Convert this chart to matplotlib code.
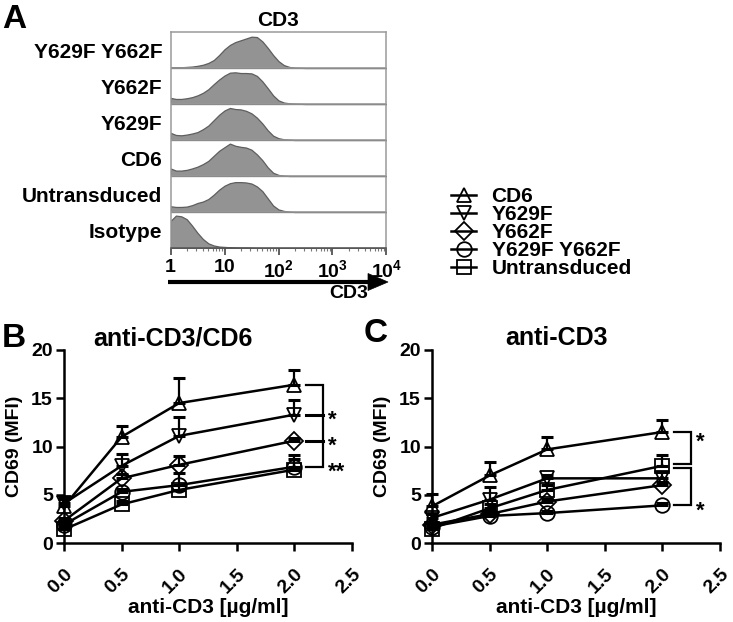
import matplotlib
matplotlib.use('Agg')
import matplotlib.pyplot as plt
import numpy as np
from matplotlib.patches import Polygon

plt.rcParams['font.family'] = ['Liberation Sans', 'DejaVu Sans']
plt.rcParams['font.weight'] = 'bold'
plt.rcParams['mathtext.fontset'] = 'custom'
plt.rcParams['mathtext.rm'] = 'Liberation Sans:bold'
plt.rcParams['mathtext.bf'] = 'Liberation Sans:bold'
plt.rcParams['mathtext.it'] = 'Liberation Sans:bold'

# ---------------- Panel A data (CD3 histograms, x in log10 units) ----------------
hist_labels = ['Y629F Y662F', 'Y662F', 'Y629F', 'CD6', 'Untransduced', 'Isotype']
hist_logx = [0.0, 0.1, 0.2, 0.3, 0.4, 0.5, 0.6, 0.7, 0.8, 0.9, 1.0, 1.1, 1.2, 1.3,
             1.4, 1.5, 1.6, 1.7, 1.8, 1.9, 2.0, 2.1, 2.2, 2.3, 2.5, 3.0, 4.0]
h_dbl = [0.02, 0.02, 0.02, 0.03, 0.04, 0.06, 0.09, 0.14, 0.22, 0.36, 0.52, 0.64, 0.72, 0.77,
         0.82, 0.87, 0.86, 0.74, 0.56, 0.36, 0.19, 0.08, 0.03, 0.01, 0.0, 0.0, 0.0]
h_y662f = [0.17, 0.14, 0.14, 0.16, 0.19, 0.24, 0.31, 0.41, 0.55, 0.68, 0.79, 0.87, 0.88, 0.86,
           0.86, 0.85, 0.78, 0.63, 0.44, 0.24, 0.10, 0.04, 0.02, 0.01, 0.0, 0.0, 0.0]
h_y629f = [0.20, 0.14, 0.13, 0.15, 0.18, 0.22, 0.30, 0.40, 0.55, 0.70, 0.82, 0.89, 0.86, 0.85,
           0.81, 0.74, 0.62, 0.46, 0.27, 0.12, 0.05, 0.02, 0.01, 0.0, 0.0, 0.0, 0.0]
h_cd6 = [0.21, 0.15, 0.15, 0.17, 0.21, 0.26, 0.33, 0.42, 0.56, 0.70, 0.80, 0.90, 0.84, 0.81,
         0.79, 0.73, 0.60, 0.44, 0.24, 0.09, 0.03, 0.01, 0.0, 0.0, 0.0, 0.0, 0.0]
h_untr = [0.16, 0.14, 0.14, 0.15, 0.19, 0.25, 0.29, 0.36, 0.48, 0.62, 0.73, 0.80, 0.83, 0.83,
          0.82, 0.79, 0.71, 0.58, 0.38, 0.18, 0.07, 0.03, 0.01, 0.0, 0.0, 0.0, 0.0]
h_iso = [0.75, 0.90, 0.88, 0.80, 0.62, 0.42, 0.25, 0.13, 0.07, 0.04, 0.03, 0.02, 0.015, 0.01,
         0.01, 0.005, 0.0, 0.0, 0.0, 0.0, 0.0, 0.0, 0.0, 0.0, 0.0, 0.0, 0.0]
hist_heights = [h_dbl, h_y662f, h_y629f, h_cd6, h_untr, h_iso]
hist_tick_labels = ['1', '10', '10$^2$', '10$^3$', '10$^4$']

# ---------------- Panels B/C data ----------------
doses = [0.0, 0.5, 1.0, 2.0]
groups = ['CD6', 'Y629F', 'Y662F', 'Y629F Y662F', 'Untransduced']
group_markers = ['^', 'v', 'D', 'o', 's']

# B: anti-CD3/CD6
b_cd6 = [3.8, 11.0, 14.5, 16.4]
b_cd6_err = [1.0, 1.1, 2.6, 1.5]
b_y629f = [4.1, 8.0, 11.1, 13.3]
b_y629f_err = [0.5, 1.2, 2.0, 1.5]
b_y662f = [2.3, 6.7, 8.1, 10.6]
b_y662f_err = [0.3, 0.4, 0.9, 0.3]
b_dbl = [1.9, 5.3, 6.0, 7.9]
b_dbl_err = [0.3, 0.3, 1.3, 1.2]
b_untr = [1.4, 4.0, 5.5, 7.6]
b_untr_err = [0.3, 0.4, 0.5, 1.1]

# C: anti-CD3
c_cd6 = [3.8, 7.0, 9.7, 11.5]
c_cd6_err = [1.3, 1.4, 1.3, 1.2]
c_y629f = [2.6, 4.5, 6.7, 6.7]
c_y629f_err = [0.4, 1.3, 0.3, 0.7]
c_y662f = [1.9, 3.0, 4.3, 6.0]
c_y662f_err = [0.2, 0.3, 0.3, 0.3]
c_dbl = [1.7, 2.8, 3.1, 3.9]
c_dbl_err = [0.2, 0.2, 0.2, 0.2]
c_untr = [1.5, 3.6, 5.5, 8.0]
c_untr_err = [0.3, 0.4, 0.5, 1.1]

b_means = [b_cd6, b_y629f, b_y662f, b_dbl, b_untr]
b_errs = [b_cd6_err, b_y629f_err, b_y662f_err, b_dbl_err, b_untr_err]
c_means = [c_cd6, c_y629f, c_y662f, c_dbl, c_untr]
c_errs = [c_cd6_err, c_y629f_err, c_y662f_err, c_dbl_err, c_untr_err]

W, H = 733, 622
fig = plt.figure(figsize=(W / 100, H / 100), dpi=100)


def px_axes(l, t, r, b):
    return [l / W, 1 - b / H, (r - l) / W, (b - t) / H]


# ---------------- Panel A ----------------
axh = fig.add_axes(px_axes(170.5, 32, 386.5, 248))
gray_line = '#9a9a9a'
n = len(hist_labels)
for i, h in enumerate(hist_heights):
    base = n - 1 - i
    axh.fill_between(hist_logx, base, base + np.array(h), facecolor='#939393',
                     edgecolor='#5e5e5e', lw=0.9)
for k in range(1, n):
    axh.axhline(k, color=gray_line, lw=1.1)
axh.set_xlim(0, 4)
axh.set_ylim(0, n)
for s in axh.spines.values():
    s.set_color(gray_line)
    s.set_linewidth(1.1)
axh.spines['bottom'].set_color('#555555')
axh.set_yticks([n - 0.5 - i for i in range(n)])
axh.set_yticklabels(hist_labels, fontsize=15, fontweight='bold')
axh.tick_params(axis='y', length=0, pad=6)
axh.set_xticks(range(5))
axh.set_xticklabels(hist_tick_labels, fontsize=14, fontweight='bold')
minor = [d + np.log10(m) for d in range(4) for m in range(2, 10)]
axh.set_xticks(minor, minor=True)
axh.tick_params(axis='x', which='major', length=5, width=1.2, color='#444444', pad=3)
axh.tick_params(axis='x', which='minor', length=2.5, width=0.8, color='#777777')
axh.set_title('CD3', fontsize=15, fontweight='bold', pad=4)

# ---------------- Panels B & C ----------------
axB = fig.add_axes(px_axes(64, 350, 352, 543))
axC = fig.add_axes(px_axes(432, 350, 720, 543))

handles = []
for ax, means, errs in [(axB, b_means, b_errs), (axC, c_means, c_errs)]:
    for g, mk, m, e in zip(groups, group_markers, means, errs):
        ax.errorbar(doses, m, yerr=[np.zeros(len(e)), e], fmt='none', ecolor='black',
                    elinewidth=1.6, capsize=4, capthick=2.2, clip_on=False, zorder=2)
        ms = 9 if mk == 'D' else 10.5
        ln, = ax.plot(doses, m, color='black', lw=1.8, marker=mk, ms=ms,
                      mfc='none', mec='black', mew=1.3, clip_on=False, zorder=3, label=g)
        if ax is axB:
            handles.append(ln)
    ax.set_xlim(0, 2.5)
    ax.set_ylim(0, 20)
    ax.set_xticks([0.0, 0.5, 1.0, 1.5, 2.0, 2.5])
    ax.set_xticklabels(['0.0', '0.5', '1.0', '1.5', '2.0', '2.5'], rotation=45,
                       ha='right', va='top', rotation_mode='anchor', fontsize=14,
                       fontweight='bold')
    ax.set_yticks([0, 5, 10, 15, 20])
    ax.set_yticklabels(['0', '5', '10', '15', '20'], fontsize=14, fontweight='bold')
    for s in ['top', 'right']:
        ax.spines[s].set_visible(False)
    for s in ['left', 'bottom']:
        ax.spines[s].set_linewidth(1.8)
    ax.tick_params(length=6, width=1.8, pad=2)
    ax.tick_params(axis='x', pad=10)
    ax.set_xlabel('anti-CD3 [µg/ml]', fontsize=15, fontweight='bold', labelpad=1)
    ax.set_ylabel('CD69 (MFI)', fontsize=14, fontweight='bold', labelpad=6)
    ax.patch.set_alpha(0)


# significance brackets
def bracket(ax, top, bottom, x0=2.1, x1=2.25):
    ax.plot([x0, x1, x1, x0], [top, top, bottom, bottom], color='black', lw=1.6,
            clip_on=False, solid_joinstyle='miter')


def hbar(ax, y, x0=2.1, x1=2.25):
    ax.plot([x0, x1], [y, y], color='black', lw=2.2, clip_on=False)


def star(ax, y, s):
    ax.text(2.29, y, s, fontsize=16, fontweight='bold', ha='left', va='center',
            clip_on=False)


bracket(axB, b_cd6[-1], b_dbl[-1])
hbar(axB, b_y629f[-1])
hbar(axB, b_y662f[-1])
star(axB, b_y629f[-1] - 0.6, '*')
star(axB, b_y662f[-1] - 0.6, '*')
star(axB, b_dbl[-1] - 0.6, '**')

bracket(axC, c_cd6[-1], c_untr[-1] + 0.2)
bracket(axC, c_untr[-1] - 0.2, c_dbl[-1])
star(axC, c_cd6[-1] - 1.1, '*')
star(axC, c_dbl[-1] - 0.6, '*')

# legend
fig.legend(handles=handles, labels=groups, loc='upper left',
           bbox_to_anchor=(451 / W, 1 - 187 / H), frameon=False,
           prop={'weight': 'bold', 'size': 15}, handlelength=1.2, handletextpad=0.75,
           labelspacing=-0.05, borderpad=0, borderaxespad=0)

# ---------------- overlay (labels, arrow, titles) ----------------
ov = fig.add_axes([0, 0, 1, 1], zorder=-1)
ov.set_xlim(0, W)
ov.set_ylim(H, 0)
ov.axis('off')
ov.plot([168, 372], [282, 282], color='black', lw=3.0, solid_capstyle='butt')
ov.add_patch(Polygon([[368, 273.5], [388, 282], [368, 290.5]], closed=True,
                     facecolor='black', edgecolor='black', lw=0.5))
ov.text(349, 293, 'CD3', fontsize=14, fontweight='bold', ha='center', va='center')
ov.text(2, 28, 'A', fontsize=24, fontweight='bold', ha='left', va='baseline')
ov.text(2, 347, 'B', fontsize=24, fontweight='bold', ha='left', va='baseline')
ov.text(364, 342, 'C', fontsize=24, fontweight='bold', ha='left', va='baseline')
ov.text(173, 338, 'anti-CD3/CD6', fontsize=18, fontweight='bold', ha='center', va='center')
ov.text(557, 338, 'anti-CD3', fontsize=18, fontweight='bold', ha='center', va='center')

fig.savefig('out.png', dpi=100)
